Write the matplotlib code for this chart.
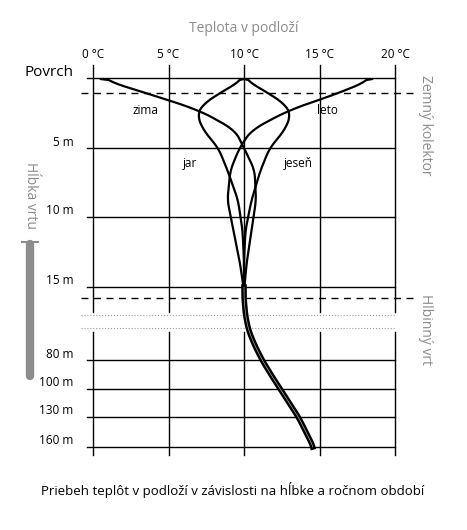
import matplotlib.pyplot as plt
import numpy as np

plt.rcParams['font.family'] = ['Open Sans', 'DejaVu Sans']

# y positions are in picture rows (depth axis is broken, so not linear in metres)
depth_labels = ["Povrch", "5 m", "10 m", "15 m", "80 m", "100 m", "130 m", "160 m"]
depth_rows = [78, 148, 217, 287, 360, 389, 417, 447]
temp_ticks = [0, 5, 10, 15, 20]

rows = [79, 93, 110, 130, 148, 170, 200, 230, 260, 290]
zima = [0.5, 3.5, 7.0, 9.4, 10.0, 10.7, 10.8, 10.5, 10.2, 10.0]
leto = [18.5, 16.3, 13.0, 10.5, 9.7, 9.1, 8.9, 9.3, 9.7, 10.0]
rows_jar = [79, 93, 105, 115, 130, 148, 170, 200, 230, 260, 290]
jar = [10.0, 8.4, 7.2, 6.9, 7.3, 8.3, 8.9, 9.6, 9.9, 10.0, 10.0]
jesen = [10.0, 11.6, 12.8, 13.1, 12.7, 11.7, 11.1, 10.5, 10.1, 10.0, 10.0]
rows_deep = [287, 298, 315, 330, 345, 360, 375, 389, 403, 417, 432, 447]
deep = [10.0, 10.0, 10.1, 10.3, 10.7, 11.2, 11.8, 12.4, 13.0, 13.6, 14.1, 14.6]

px = 15.1  # pixels per degree
fig = plt.figure(figsize=(4.67, 5.30), dpi=100)
ax = fig.add_axes([0, 0, 1, 1])
ax.set_xlim(-93 / px, (467 - 93) / px)
ax.set_ylim(530, 0)
ax.axis('off')

def smooth(xs, ys, n=200, w=15):
    t = np.linspace(ys[0], ys[-1], n)
    xv = np.interp(t, ys, xs)
    k = np.ones(w) / w
    xp = np.convolve(np.pad(xv, w // 2, mode='edge'), k, mode='valid')
    xp[0] = xs[0]
    return xp, t

gray = '#8c8c8c'
for lbl, r in zip(depth_labels, depth_rows):
    ax.plot([-0.4, 20], [r, r], color='black', lw=1)
    fs = 11 if lbl == "Povrch" else 8.5
    ax.text(-1.3, r - 6, lbl, ha='right', va='center', fontsize=fs)
for t in temp_ticks:
    ax.plot([t, t], [65, 312], color='black', lw=1)
    ax.plot([t, t], [332, 455], color='black', lw=1)
    ax.text(t, 55, f"{t} °C", ha='center', va='center', fontsize=8.5)
ax.text(10, 28, "Teplota v podloží", ha='center', va='center', fontsize=10, color=gray)

for r in (93, 298):
    ax.plot([-0.8, 21.3], [r, r], color='black', lw=1, ls=(0, (5, 4)))
for r in (315, 328):
    ax.plot([-0.8, 20], [r, r], color='#999999', lw=0.8, ls=':')

for xs, ys in ((zima, rows), (leto, rows), (jar, rows_jar), (jesen, rows_jar)):
    xp, t = smooth(xs, ys)
    ax.plot(xp, t, color='black', lw=1.6, solid_capstyle='round')
xp, t = smooth(deep, rows_deep)
ax.plot(xp, t, color='black', lw=4)
ax.plot(xp, t, color='white', lw=0.4, alpha=0.8)

ax.text(3.5, 111, "zima", ha='center', va='center', fontsize=8.5)
ax.text(15.5, 111, "leto", ha='center', va='center', fontsize=8.5)
ax.text(6.4, 163, "jar", ha='center', va='center', fontsize=8.5)
ax.text(13.6, 163, "jeseň", ha='center', va='center', fontsize=8.5)

ax.text(30 / px - 93 / px, 195, "Hĺbka vrtu", rotation=-90, ha='center', va='center', fontsize=10, color=gray)
bx = (30 - 93) / px
ax.plot([bx, bx], [244, 376], color=gray, lw=6, solid_capstyle='round')
ax.plot([bx - 0.5, bx + 0.5], [242, 242], color=gray, lw=1.5)
ax.text((425 - 93) / px, 125, "Zemný kolektor", rotation=-90, ha='center', va='center', fontsize=10, color=gray)
ax.text((425 - 93) / px, 330, "Hlbinný vrt", rotation=-90, ha='center', va='center', fontsize=10, color=gray)

ax.text((233 - 93) / px, 490, "Priebeh teplôt v podloží v závislosti na hĺbke a ročnom období",
        ha='center', va='center', fontsize=9.5)

fig.savefig('out.png', dpi=100)
